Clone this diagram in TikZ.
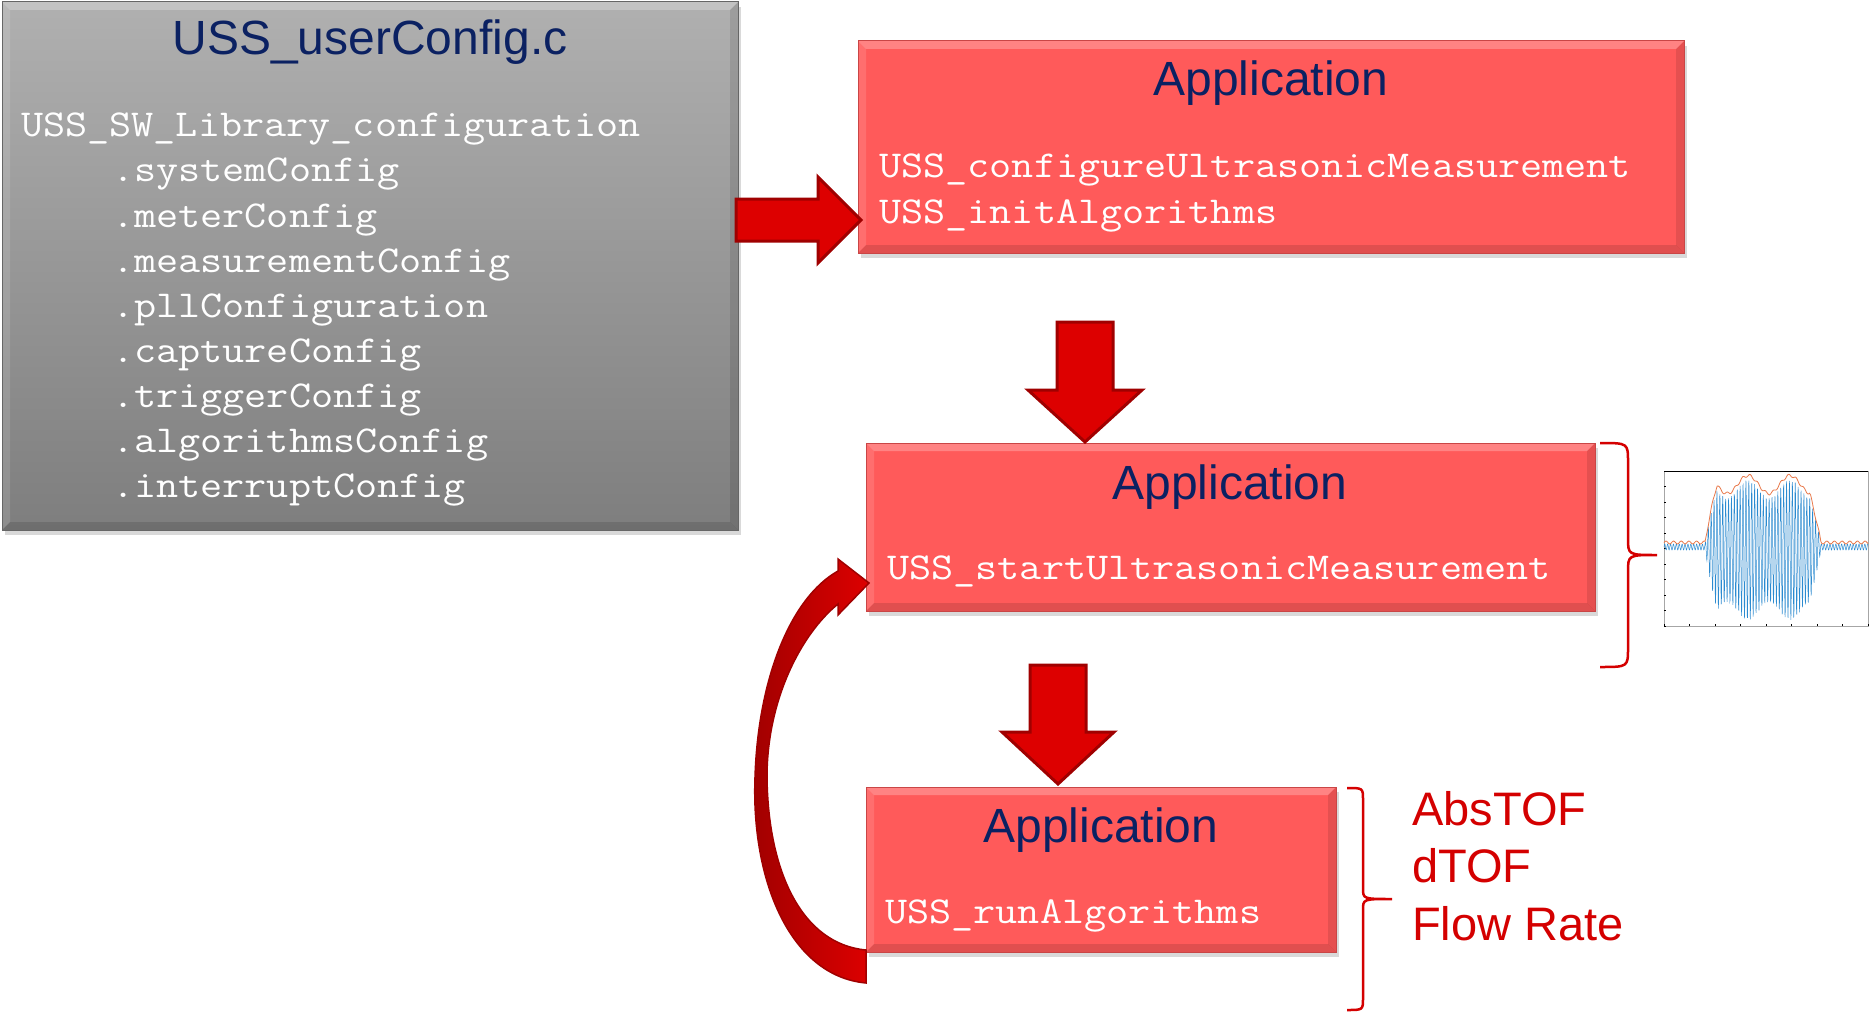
\documentclass[tikz,border=0pt]{standalone}
\usepackage{fontspec}
\setmainfont{Liberation Sans}
\newfontfamily\codefont{Latin Modern Mono}[FakeStretch=1.13]
\usepackage{tikz}
\usetikzlibrary{shadows}

\definecolor{boxred}{HTML}{FF5A5A}
\definecolor{boxedge}{HTML}{C94646}
\definecolor{titleblue}{HTML}{0B2162}
\definecolor{arrowred}{HTML}{DD0000}
\definecolor{arrowdark}{HTML}{A00000}
\definecolor{bracered}{HTML}{D40000}
\definecolor{graytop}{HTML}{B0B0B0}
\definecolor{graybot}{HTML}{7E7E7E}
\definecolor{sigblue}{HTML}{2C8BD0}
\definecolor{envorange}{HTML}{E8784A}

\tikzset{
  bevel/.style={path picture={
      \fill[white, opacity=0.25] (path picture bounding box.north west) -- (path picture bounding box.north east)
        -- ([shift={(-8pt,-8pt)}]path picture bounding box.north east) -- ([shift={(8pt,-8pt)}]path picture bounding box.north west) -- cycle;
      \fill[white, opacity=0.12] (path picture bounding box.north west) -- (path picture bounding box.south west)
        -- ([shift={(8pt,8pt)}]path picture bounding box.south west) -- ([shift={(8pt,-8pt)}]path picture bounding box.north west) -- cycle;
      \fill[black, opacity=0.12] (path picture bounding box.south west) -- (path picture bounding box.south east)
        -- ([shift={(-8pt,8pt)}]path picture bounding box.south east) -- ([shift={(8pt,8pt)}]path picture bounding box.south west) -- cycle;
      \fill[black, opacity=0.10] (path picture bounding box.north east) -- (path picture bounding box.south east)
        -- ([shift={(-8pt,8pt)}]path picture bounding box.south east) -- ([shift={(-8pt,-8pt)}]path picture bounding box.north east) -- cycle;
    }},
  cfgbox/.style={rectangle, anchor=north west, inner sep=0pt, outer sep=0pt,
    top color=graytop, bottom color=graybot, draw=gray!80!black, line width=1pt,
    drop shadow={shadow xshift=3pt, shadow yshift=-5pt, opacity=0.3}, bevel},
  appbox/.style={rectangle, anchor=north west, inner sep=0pt, outer sep=0pt,
    fill=boxred, draw=boxedge, line width=1pt,
    drop shadow={shadow xshift=3pt, shadow yshift=-5pt, opacity=0.3}, bevel},
  boxtitle/.style={anchor=base, inner sep=0pt, text=titleblue, font=\fontsize{48}{57}\selectfont},
  code/.style={anchor=base west, inner sep=0pt, text=white, font=\codefont\fontsize{38}{45}\selectfont},
  result/.style={anchor=base west, inner sep=0pt, text=bracered, font=\fontsize{47}{56}\selectfont},
  blockarrow/.style={fill=arrowred, draw=arrowdark, line width=3pt, line join=miter},
  looparrow/.style={left color=arrowdark, right color=arrowred, draw=arrowdark, line width=1.5pt},
  bracestroke/.style={draw=bracered, line width=2.5pt}
}

\begin{document}
\begin{tikzpicture}[x=1pt, y=-1pt,
    declare function={ramp(\t)=min(1,max(0,(\t-41)/12))*min(1,max(0,(157-\t)/11));
                      sigenv(\t)=3+(58+9*cos(8.5714*(\t-84)))*ramp(\t);}]
    \useasboundingbox (0,0) rectangle (1871,1014);

    % Boxes
    \node[cfgbox, minimum width=736pt, minimum height=528pt] (cfg) at (2,2) {};
    \node[appbox, minimum width=826pt, minimum height=212pt] (init) at (858,41) {};
    \node[appbox, minimum width=729pt, minimum height=168pt] (start) at (866,443) {};
    \node[appbox, minimum width=470pt, minimum height=165pt] (run) at (866,787) {};

    % Titles
    \node[boxtitle] (cfgtitle) at (370,55) {USS\_userConfig.c};
    \node[boxtitle] (inittitle) at (1271,96) {Application};
    \node[boxtitle] (starttitle) at (1230,499) {Application};
    \node[boxtitle] (runtitle) at (1101,842) {Application};

    % Code lines
    \node[code] (cfghead) at (21,137) {USS\_SW\_Library\_configuration};
    \foreach \txt [count=\i] in {.systemConfig, .meterConfig, .measurementConfig, .pllConfiguration,
        .captureConfig, .triggerConfig, .algorithmsConfig, .interruptConfig}
        \node[code] (cfgline\i) at (112, {137+45*\i}) {\txt};
    \node[code] (initline1) at (879,177) {USS\_configureUltrasonicMeasurement};
    \node[code] (initline2) at (879,223) {USS\_initAlgorithms};
    \node[code] (startline) at (887,579) {USS\_startUltrasonicMeasurement};
    \node[code] (runline) at (885,923) {USS\_runAlgorithms};

    % Block arrows
    \draw[blockarrow] (736,199) -- (818,199) -- (818,177) -- (861,220) -- (818,263) -- (818,241) -- (736,241) -- cycle;
    \draw[blockarrow] (1057,322) -- (1113,322) -- (1113,390) -- (1142,390) -- (1085,442) -- (1028,390) -- (1057,390) -- cycle;
    \draw[blockarrow] (1030,665) -- (1086,665) -- (1086,732) -- (1114,732) -- (1058,784) -- (1002,732) -- (1030,732) -- cycle;

    % Loop back arrow
    \draw[looparrow] (866,983) .. controls (790,976) and (751,880) .. (755,777)
        .. controls (758,680) and (790,598) .. (838,571)
        -- (838,559) -- (869,583) -- (838,615) -- (838,604)
        .. controls (801,634) and (767,700) .. (767,777)
        .. controls (768,872) and (802,944) .. (866,950) -- cycle;

    % Braces
    \draw[bracestroke] (1600,443) .. controls (1628,443) .. (1628,462) -- (1628,538)
        .. controls (1628,555) .. (1657,555) .. controls (1628,555) .. (1628,572)
        -- (1628,648) .. controls (1628,667) .. (1600,667);
    \draw[bracestroke] (1347,788) .. controls (1363,788) .. (1363,800) -- (1363,888)
        .. controls (1363,899) .. (1392,899) .. controls (1363,899) .. (1363,910)
        -- (1363,998) .. controls (1363,1010) .. (1347,1010);

    % Results
    \foreach \txt [count=\i] in {AbsTOF, dTOF, Flow Rate}
        \node[result] (res\i) at (1412, {825+57.5*(\i-1)}) {\txt};

    % Signal plot
    \begin{scope}[shift={(1664,547)}, y=1pt]
        \draw[line width=0.6pt, gray!70] (0,-79) rectangle (204,76);
        \draw[line width=0.8pt, black] (0,76) -- (204,76);
        \foreach \v in {0,...,10} \draw[line width=0.4pt] (0,{-79+15.5*\v}) -- ++(2,0);
        \foreach \u in {0,...,8} \draw[line width=0.4pt] ({25.5*\u},-79) -- ++(0,2);
        \draw[sigblue, line width=0.5pt] plot[domain=0:204, samples=800] (\x, {sigenv(\x)*sin(124.14*mod(\x,2.9))-3*ramp(\x)});
        \draw[envorange, line width=0.8pt] plot[domain=0:204, samples=200, smooth] (\x, {sigenv(\x)+1.5+1.5*sin(47*\x)});
    \end{scope}
\end{tikzpicture}
\end{document}
